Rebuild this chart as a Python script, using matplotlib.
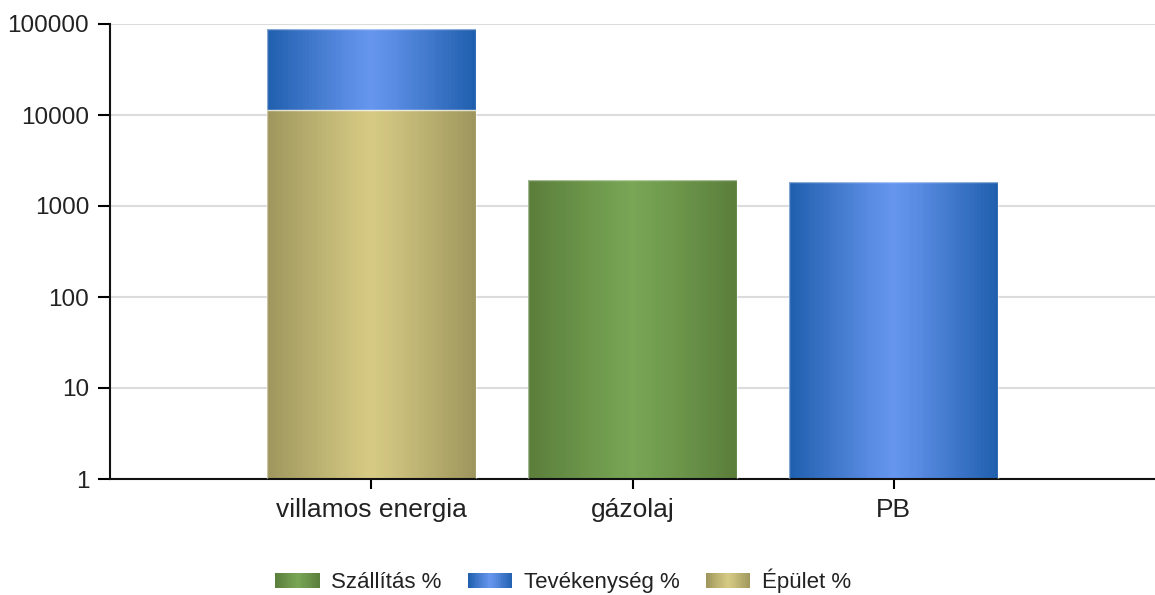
import numpy as np
import matplotlib
matplotlib.use('Agg')
import matplotlib.pyplot as plt
from matplotlib.legend_handler import HandlerBase
from matplotlib.patches import Rectangle
from matplotlib.ticker import FixedLocator, FixedFormatter

plt.rcParams['font.family'] = ['Liberation Sans', 'DejaVu Sans']

# data
categories = ['villamos energia', 'gázolaj', 'PB']
series_names = ['Szállítás %', 'Tevékenység %', 'Épület %']
szallitas = [0, 1930, 0]
tevekenyseg = [76700, 0, 1840]
epulet = [11300, 0, 0]
yticks = [1, 10, 100, 1000, 10000, 100000]

# (edge colour, centre colour) for the gradient fill
shades = {
    'Szállítás %': ('#5a7d3b', '#78a655'),
    'Tevékenység %': ('#1f5ead', '#6696ee'),
    'Épület %': ('#9d955c', '#d6ca84'),
}
text_col = '#222222'


def grad_color(edge, centre, t):
    e = np.array(matplotlib.colors.to_rgb(edge))
    c = np.array(matplotlib.colors.to_rgb(centre))
    d = abs(t - 0.5) * 2
    return c + (e - c) * d ** 1.1


def gradient_bar(ax, xc, height, bottom, width, edge, centre, n=60):
    w = width / n
    x0 = xc - width / 2
    for k in range(n):
        col = grad_color(edge, centre, (k + 0.5) / n)
        ww = w * 2 if k < n - 1 else w
        ax.bar(x0 + k * w, height, width=ww, bottom=bottom, align='edge',
               color=col, linewidth=0, zorder=2)
    ax.bar(xc, height, width=width, bottom=bottom, fill=False,
           edgecolor='white', alpha=0.45, linewidth=1, zorder=3)


class GradientHandler(HandlerBase):
    def __init__(self, edge, centre):
        super().__init__()
        self.edge = edge
        self.centre = centre

    def create_artists(self, legend, orig_handle, xdescent, ydescent,
                       width, height, fontsize, trans):
        n = 24
        arts = []
        for k in range(n):
            col = grad_color(self.edge, self.centre, (k + 0.5) / n)
            ww = width / n * (2 if k < n - 1 else 1)
            r = Rectangle((-xdescent + k * width / n, -ydescent), ww, height,
                          facecolor=col, linewidth=0, transform=trans)
            arts.append(r)
        return arts


fig = plt.figure(figsize=(11.55, 5.95), dpi=100)
ax = fig.add_axes([110 / 1155, 1 - 479 / 595, 1 - 110 / 1155, (479 - 24) / 595])

x = np.arange(len(categories))
bar_w = 0.8

# stack order from bottom: Épület, Tevékenység, Szállítás
stack = [('Épület %', epulet), ('Tevékenység %', tevekenyseg), ('Szállítás %', szallitas)]
bottoms = np.zeros(len(categories))
for name, vals in stack:
    edge, centre = shades[name]
    for i, v in enumerate(vals):
        if v > 0:
            gradient_bar(ax, x[i], v, bottoms[i], bar_w, edge, centre)
    bottoms = bottoms + np.array(vals)

ax.set_yscale('log')
ax.set_ylim(1, 100000)
ax.set_xlim(-1, 3)
ax.yaxis.set_major_locator(FixedLocator(yticks))
ax.yaxis.set_major_formatter(FixedFormatter([str(v) for v in yticks]))
ax.yaxis.set_minor_locator(FixedLocator([]))
ax.set_xticks(x)
ax.set_xticklabels(categories)

ax.grid(axis='y', color='#dcdcdc', linewidth=1.5, zorder=0)
ax.set_axisbelow(True)
for s in ['top', 'right']:
    ax.spines[s].set_visible(False)
ax.spines['left'].set_linewidth(1.5)
ax.spines['bottom'].set_linewidth(1.5)
ax.spines['left'].set_color('#111111')
ax.spines['bottom'].set_color('#111111')
ax.tick_params(axis='y', length=9, width=1.5, pad=6, labelsize=17.5, labelcolor=text_col)
ax.tick_params(axis='x', length=7, width=1.5, pad=7, labelsize=19, labelcolor=text_col)

handles = [Rectangle((0, 0), 1, 1) for _ in series_names]
hmap = {h: GradientHandler(*shades[n]) for h, n in zip(handles, series_names)}
leg = fig.legend(handles, series_names, handler_map=hmap, loc='center',
                 bbox_to_anchor=(0.4875, 1 - 581 / 595), ncol=3, frameon=False,
                 fontsize=16, handlelength=2.0, handleheight=0.65,
                 handletextpad=0.5, columnspacing=1.2)
for t in leg.get_texts():
    t.set_color(text_col)

fig.savefig('out.png', dpi=100)
